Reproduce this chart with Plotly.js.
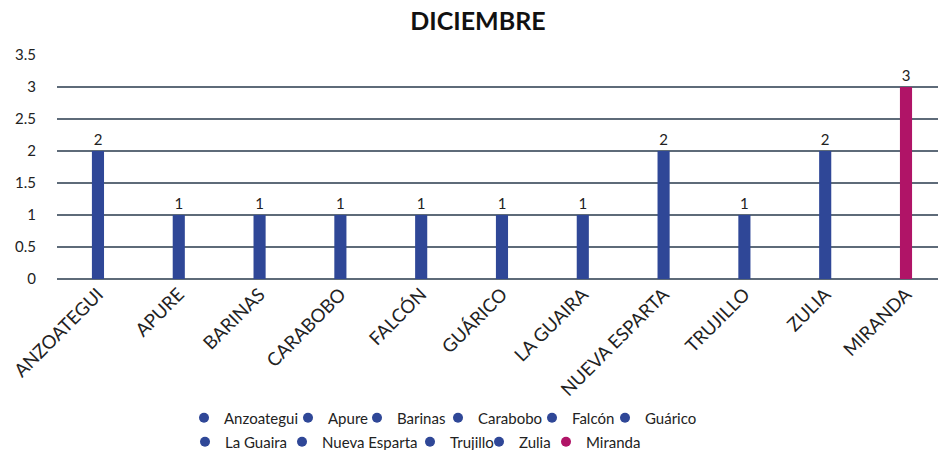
<!DOCTYPE html>
<html>
<head>
<meta charset="utf-8">
<script src="https://cdn.plot.ly/plotly-3.0.1.min.js"></script>
<style>html,body{margin:0;padding:0;background:#fff}#chart{width:938px;height:450px}</style>
</head>
<body>
<div id="chart"></div>
<script>
const categories = ["ANZOATEGUI","APURE","BARINAS","CARABOBO","FALCÓN","GUÁRICO","LA GUAIRA","NUEVA ESPARTA","TRUJILLO","ZULIA","MIRANDA"];
const seriesNames = ["Anzoategui","Apure","Barinas","Carabobo","Falcón","Guárico","La Guaira","Nueva Esparta","Trujillo","Zulia","Miranda"];
const values = [2,1,1,1,1,1,1,2,1,2,3];
const colors = ["#2f4797","#2f4797","#2f4797","#2f4797","#2f4797","#2f4797","#2f4797","#2f4797","#2f4797","#2f4797","#b01467"];
const yTicks = [0,0.5,1,1.5,2,2.5,3,3.5];
// legend entry placement (px): text start x and row centre y
const legendTextX = [220,324,393,474,568,641,221,318,446,515,582];
const legendRowY = [418,418,418,418,418,418,442,442,442,442,442];

const FF = "Lato";
const traces = [];
categories.forEach((c,i)=>{
  traces.push({
    type:'bar', x:[c], y:[values[i]], name:seriesNames[i], width:0.15,
    marker:{color:colors[i]}, text:[String(values[i])], textposition:'outside',
    textfont:{family:FF, size:15, color:'#222'}, cliponaxis:false,
    showlegend:false, hoverinfo:'x+y'
  });
});
const legendFont = {family:FF, size:15, color:'#222'};
const layout = {
  width:938, height:450,
  margin:{l:57, r:0, t:55, b:171},
  paper_bgcolor:'#fff', plot_bgcolor:'#fff',
  barmode:'overlay',
  font:{family:FF},
  title:{text:'<b>DICIEMBRE</b>', x:478/938, xanchor:'center', y:1-21/450, yanchor:'middle',
         font:{family:FF, size:25, color:'#111'}},
  xaxis:{type:'category', categoryorder:'array', categoryarray:categories,
         range:[-0.507,10.396], tickangle:-45, showgrid:false, zeroline:false,
         showline:false, ticks:'', tickfont:{family:FF, size:18.5, color:'#222'}},
  yaxis:{range:[0,3.5], tickvals:yTicks, ticktext:yTicks.map(String), showgrid:true,
         gridcolor:'#5e6b79', gridwidth:2, zeroline:true, zerolinecolor:'#5e6b79', zerolinewidth:2,
         showline:false, ticks:'', ticklabelstandoff:20,
         tickfont:{family:FF, size:15, color:'#222'}},
  showlegend:true
};
seriesNames.forEach((n,i)=>{
  const key = i === 0 ? 'legend' : 'legend' + (i+1);
  traces.push({
    type:'scatter', mode:'markers', x:[null], y:[null], name:n, legend:key,
    marker:{color:colors[i], size:10, symbol:'circle'}, showlegend:true
  });
  layout[key] = {orientation:'h', xref:'container', yref:'container',
    x:(legendTextX[i]-36)/938, xanchor:'left', y:1-legendRowY[i]/450, yanchor:'middle',
    font:legendFont, itemwidth:30, bgcolor:'rgba(0,0,0,0)'};
});
Plotly.newPlot('chart', traces, layout, {displayModeBar:false, staticPlot:true});
</script>
</body>
</html>
